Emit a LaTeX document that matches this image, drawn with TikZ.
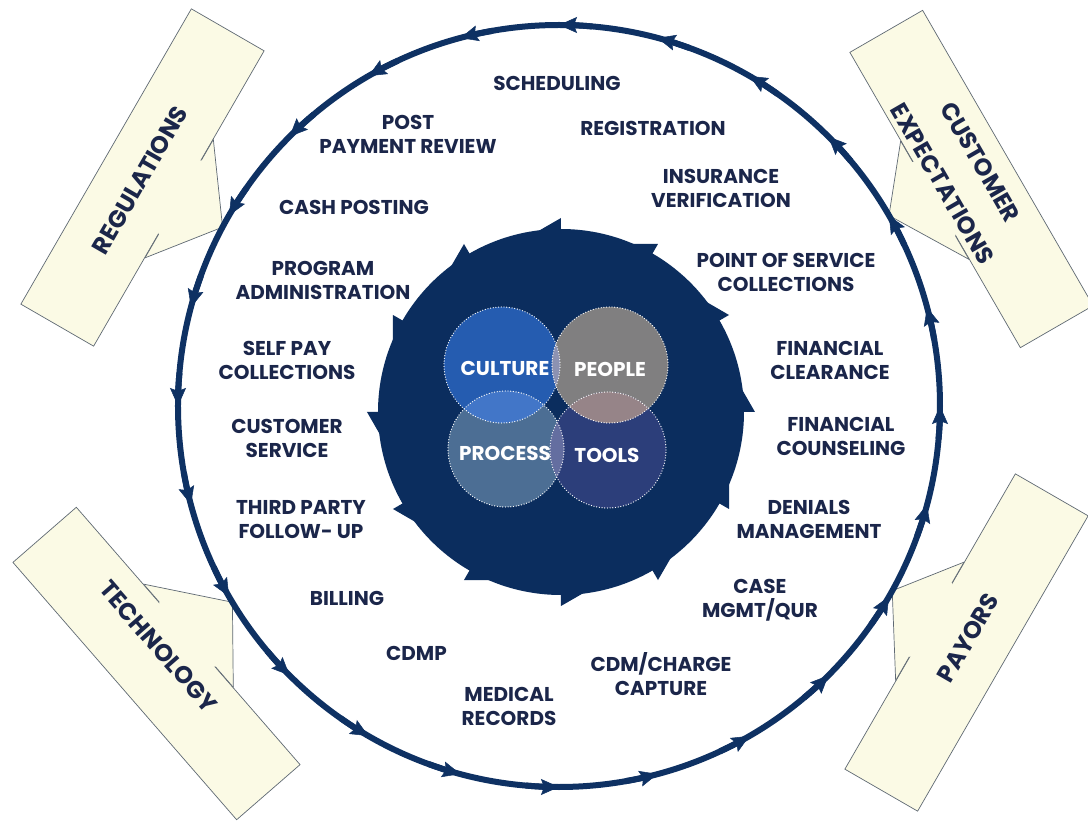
\documentclass[tikz,border=0pt]{standalone}
\usepackage{fontspec}
\setmainfont{Poppins}
\usetikzlibrary{arrows.meta,calc}

\definecolor{ringnavy}{RGB}{14,49,99}
\definecolor{hubnavy}{RGB}{11,45,94}
\definecolor{labelnavy}{RGB}{27,38,74}
\definecolor{cream}{RGB}{251,250,229}
\definecolor{boxedge}{RGB}{95,105,115}
\definecolor{culturec}{RGB}{37,92,176}
\definecolor{peoplec}{RGB}{128,127,128}
\definecolor{processc}{RGB}{76,110,148}
\definecolor{toolsc}{RGB}{44,62,122}
\definecolor{lenscp}{RGB}{140,146,178}
\definecolor{lenscr}{RGB}{66,118,200}
\definecolor{lenspt}{RGB}{150,132,136}
\definecolor{lensrt}{RGB}{100,110,160}

\begin{document}
\begin{tikzpicture}[x=1pt,y=1pt,
   font=\bfseries\fontsize{20}{24}\selectfont,
   stage/.style={text=labelnavy,align=center,inner sep=0pt},
   callbox/.style={draw=boxedge,fill=cream,line width=0.7pt,minimum width=341pt,minimum height=84pt,inner sep=0pt},
   calledge/.style={draw=boxedge,line width=0.7pt},
   calltext/.style={text=labelnavy,align=center,inner sep=0pt,font=\bfseries\fontsize{24}{44}\selectfont},
   ring/.style={draw=ringnavy,line width=6pt},
   tick/.style={ringnavy,line width=6pt,-{Stealth[length=18pt,width=16pt,inset=3pt,line width=0.5pt]}},
   venn/.style={circle,minimum size=116pt,inner sep=0pt},
   dots/.style={white,line width=1.3pt,dash pattern=on 0pt off 2.7pt,line cap=round},
   vtext/.style={text=white,inner sep=0pt}]

\useasboundingbox (-559,-416) rectangle (529,406);
\fill[white] (-559,-416) rectangle (529,406);

% callout boxes
\node[callbox,rotate=60] (reg) at (-416.5,228.5) {};
\node[callbox,rotate=-60] (cust) at (412.5,227) {};
\node[callbox,rotate=-49] (tech) at (-402.5,-257.5) {};
\node[callbox,rotate=60] (pay) at (407.5,-236.5) {};
\foreach \bx/\ka/\kb/\ang in {reg/south east/south west/152,cust/south west/south east/30,tech/north west/north east/211,pay/north east/north west/331}{
  \coordinate (\bx-tip) at (\ang:381);
  \coordinate (\bx-a) at ($(\bx.\ka)!0.3!(\bx.\kb)$);
  \coordinate (\bx-b) at ($(\bx.\ka)!0.7!(\bx.\kb)$);
  \coordinate (\bx-c) at ($(\bx.\ka)!0.37!(\bx.\kb)$);
  \coordinate (\bx-d) at ($(\bx.\ka)!0.62!(\bx.\kb)$);
  \fill[cream] (\bx-a) -- (\bx-tip) -- (\bx-b) -- cycle;
  \fill[cream] (\bx-c) -- (\bx-tip) -- (\bx-d) -- ($(\bx-d)!3pt!(\bx.center)$) -- ($(\bx-c)!3pt!(\bx.center)$) -- cycle;
  \draw[calledge] (\bx-a) -- (\bx-tip) -- (\bx-b);
  \draw[calledge] (\bx-a) -- (\bx-c) (\bx-d) -- (\bx-b);
}
\node[calltext,rotate=60] (regtxt) at (-419,226) {REGULATIONS};
\node[calltext,rotate=-60] (custtxt) at (402.5,233) {CUSTOMER\\EXPECTATIONS};
\node[calltext,rotate=-49] (techtxt) at (-400.5,-240.5) {TECHNOLOGY};
\node[calltext,rotate=60] (paytxt) at (409,-232) {PAYORS};

% outer cycle
\draw[ring] (0,0) circle (381);
\foreach \a in {0,15,...,345}
  \draw[tick] (\a-5:381) arc[start angle=\a-5,end angle=\a,radius=381];

% hub
\node[circle,fill=hubnavy,minimum size=366pt,inner sep=0pt] (hub) at (2,-6) {};
\foreach \a in {0,30,...,330}
  \fill[hubnavy] ($(hub.center)+(\a:178)$) -- ($(hub.center)+(\a:194)$) -- ($(hub.center)+(\a+9:180)$) -- cycle;

\node[venn,fill=culturec] (culture) at (-57,41) {};
\node[venn,fill=peoplec] (people) at (51,41) {};
\node[venn,fill=processc] (process) at (-53,-43) {};
\node[venn,fill=toolsc] (tools) at (49,-44) {};
\begin{scope}
  \clip (culture.center) circle (58);
  \fill[lenscp] (people.center) circle (58);
  \fill[lenscr] (process.center) circle (58);
\end{scope}
\begin{scope}
  \clip (tools.center) circle (58);
  \fill[lenspt] (people.center) circle (58);
  \fill[lensrt] (process.center) circle (58);
\end{scope}
\foreach \v in {culture,people,process,tools}
  \draw[dots] (\v.center) circle (58);
\node[vtext] (culturetxt) at (-54,38) {CULTURE};
\node[vtext] (peopletxt) at (51,37) {PEOPLE};
\node[vtext] (processtxt) at (-54,-47) {PROCESS};
\node[vtext] (toolstxt) at (48,-49) {TOOLS};

% cycle stages
\node[stage] (sched) at (-2,323) {SCHEDULING};
\node[stage] (regist) at (94,278) {REGISTRATION};
\node[stage] (insur) at (162,217.5) {INSURANCE\\VERIFICATION};
\node[stage] (pos) at (227,133.5) {POINT OF SERVICE\\COLLECTIONS};
\node[stage] (fincl) at (271,45.5) {FINANCIAL\\CLEARANCE};
\node[stage] (fincoun) at (282,-30.5) {FINANCIAL\\COUNSELING};
\node[stage] (denial) at (250,-113) {DENIALS\\MANAGEMENT};
\node[stage] (casemg) at (201,-194.5) {CASE\\MGMT/QUR};
\node[stage] (cdmchg) at (102,-268) {CDM/CHARGE\\CAPTURE};
\node[stage] (medrec) at (-50,-300.5) {MEDICAL\\RECORDS};
\node[stage] (cdmp) at (-142.5,-247) {CDMP};
\node[stage] (billing) at (-212,-192) {BILLING};
\node[stage] (thirdp) at (-258,-114) {THIRD PARTY\\FOLLOW- UP};
\node[stage] (custsvc) at (-272,-32.5) {CUSTOMER\\SERVICE};
\node[stage] (selfpay) at (-272,46) {SELF PAY\\COLLECTIONS};
\node[stage] (progadm) at (-236,126) {PROGRAM\\ADMINISTRATION};
\node[stage] (cashpost) at (-205,199) {CASH POSTING};
\node[stage] (postpay) at (-151,272) {POST\\PAYMENT REVIEW};
\end{tikzpicture}
\end{document}
